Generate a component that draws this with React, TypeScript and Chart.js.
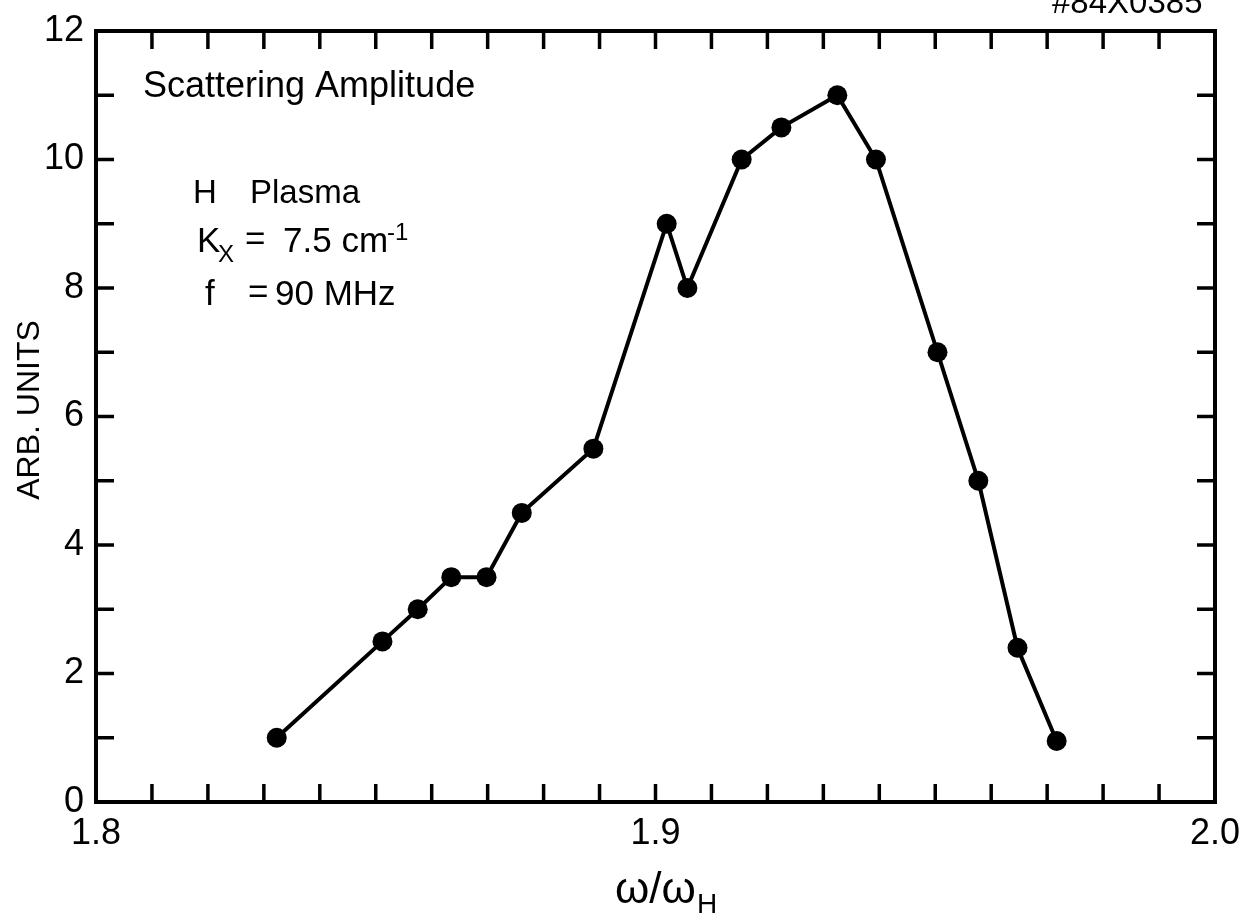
import React, { useEffect, useRef } from 'react';
import { Chart, registerables } from 'chart.js';

Chart.register(...registerables);

// ω/ωH values of the measured points
const omegaRatio = [1.8323, 1.8512, 1.8575, 1.8635, 1.8698, 1.8761, 1.8889, 1.902, 1.9057, 1.9154, 1.9225, 1.9325, 1.9394, 1.9504, 1.9577, 1.9647, 1.9717];
// scattering amplitude (arb. units)
const amplitude = [1.0, 2.5, 3.0, 3.5, 3.5, 4.5, 5.5, 9.0, 8.0, 10.0, 10.5, 11.0, 10.0, 7.0, 5.0, 2.4, 0.95];
const xTickLabels = ['1.8', '1.9', '2.0'];
const yTickLabels = ['0', '2', '4', '6', '8', '10', '12'];

const FONT = '"Liberation Sans", Arial, Helvetica, sans-serif';

const framePlugin = {
  id: 'framePlugin',
  beforeDraw(chart: any) {
    const { ctx, width, height } = chart;
    ctx.save();
    ctx.fillStyle = '#fff';
    ctx.fillRect(0, 0, width, height);
    ctx.restore();
  },
  afterDraw(chart: any) {
    const { ctx, chartArea: a, scales } = chart;
    ctx.save();
    ctx.strokeStyle = '#000';
    ctx.fillStyle = '#000';
    ctx.lineWidth = 4;
    ctx.strokeRect(a.left, a.top, a.right - a.left, a.bottom - a.top);
    ctx.lineWidth = 3.5;
    const L = 18;
    const line = (x1: number, y1: number, x2: number, y2: number) => {
      ctx.beginPath();
      ctx.moveTo(x1, y1);
      ctx.lineTo(x2, y2);
      ctx.stroke();
    };
    scales.x.ticks.forEach((t: any) => {
      const px = scales.x.getPixelForValue(t.value);
      if (px <= a.left + 2 || px >= a.right - 2) return;
      line(px, a.bottom, px, a.bottom - L);
      line(px, a.top, px, a.top + L);
    });
    scales.y.ticks.forEach((t: any) => {
      const py = scales.y.getPixelForValue(t.value);
      if (py <= a.top + 2 || py >= a.bottom - 2) return;
      line(a.left, py, a.left + L, py);
      line(a.right, py, a.right - L, py);
    });

    ctx.textAlign = 'left';
    ctx.textBaseline = 'alphabetic';
    // annotations
    ctx.font = `36px ${FONT}`;
    ctx.fillText('Scattering Amplitude', 143, 97);
    ctx.font = `33px ${FONT}`;
    ctx.fillText('H', 193, 203);
    ctx.fillText('Plasma', 250, 203);
    ctx.font = `35px ${FONT}`;
    ctx.fillText('K', 197, 252);
    ctx.font = `24px ${FONT}`;
    ctx.fillText('X', 218, 262);
    ctx.font = `35px ${FONT}`;
    ctx.fillText('=', 245, 250);
    ctx.fillText('7.5 cm', 283, 252);
    ctx.font = `24px ${FONT}`;
    ctx.fillText('-1', 387, 240);
    ctx.font = `35px ${FONT}`;
    ctx.fillText('f', 205, 305);
    ctx.fillText('=', 248, 303);
    ctx.fillText('90 MHz', 275, 305);

    // top-right label
    ctx.font = `33px ${FONT}`;
    ctx.fillText('#84X0385', 1052, 13);

    // x axis title
    ctx.font = `44px ${FONT}`;
    ctx.fillText('ω/ω', 615, 903);
    const w = ctx.measureText('ω/ω').width;
    ctx.font = `28px ${FONT}`;
    ctx.fillText('H', 615 + w + 1, 913);

    // y axis title
    ctx.translate(30, 410);
    ctx.rotate(-Math.PI / 2);
    ctx.textAlign = 'center';
    ctx.textBaseline = 'middle';
    ctx.font = `32px ${FONT}`;
    ctx.fillText('ARB. UNITS', 0, 0);
    ctx.restore();
  },
};

export default function App() {
  const ref = useRef<HTMLCanvasElement | null>(null);
  useEffect(() => {
    if (!ref.current) return;
    const points = omegaRatio.map((x, i) => ({ x, y: amplitude[i] }));
    const chart = new Chart(ref.current, {
      type: 'scatter',
      data: {
        datasets: [
          {
            data: points,
            showLine: true,
            borderColor: '#000',
            borderWidth: 4,
            pointRadius: 10,
            pointBackgroundColor: '#000',
            pointBorderWidth: 0,
            clip: false as any,
          },
        ],
      },
      options: {
        animation: false,
        responsive: false,
        layout: { padding: { top: 31, right: 24, left: 0, bottom: 0 } },
        plugins: { legend: { display: false }, tooltip: { enabled: false } },
        scales: {
          x: {
            type: 'linear',
            min: 1.8,
            max: 2.0,
            grid: { display: false, drawTicks: false },
            border: { display: false },
            ticks: {
              stepSize: 0.01,
              autoSkip: false,
              maxRotation: 0,
              padding: 10,
              color: '#000',
              font: { family: FONT, size: 36 },
              callback: (v: any) => {
                const n = Number(v);
                if (Math.abs(n * 10 - Math.round(n * 10)) > 1e-6) return '';
                const s = n.toFixed(1);
                return xTickLabels.includes(s) ? s : '';
              },
            },
            afterFit: (s: any) => {
              s.height = 113;
              s.paddingLeft = 0;
              s.paddingRight = 0;
            },
          },
          y: {
            min: 0,
            max: 12,
            grid: { display: false, drawTicks: false },
            border: { display: false },
            ticks: {
              stepSize: 1,
              autoSkip: false,
              padding: 12,
              color: '#000',
              font: { family: FONT, size: 36 },
              callback: (v: any) => {
                const s = String(Math.round(Number(v)));
                return Math.abs(Number(v) - Math.round(Number(v))) < 1e-6 && yTickLabels.includes(s) ? s : '';
              },
            },
            afterFit: (s: any) => {
              s.width = 96;
              s.paddingTop = 0;
              s.paddingBottom = 0;
            },
          },
        },
      },
      plugins: [framePlugin],
    });
    return () => chart.destroy();
  }, []);
  return (
    <div style={{ position: 'absolute', left: 0, top: 0, width: 1239, height: 915 }}>
      <canvas ref={ref} width={1239} height={915} style={{ display: 'block' }} />
    </div>
  );
}
